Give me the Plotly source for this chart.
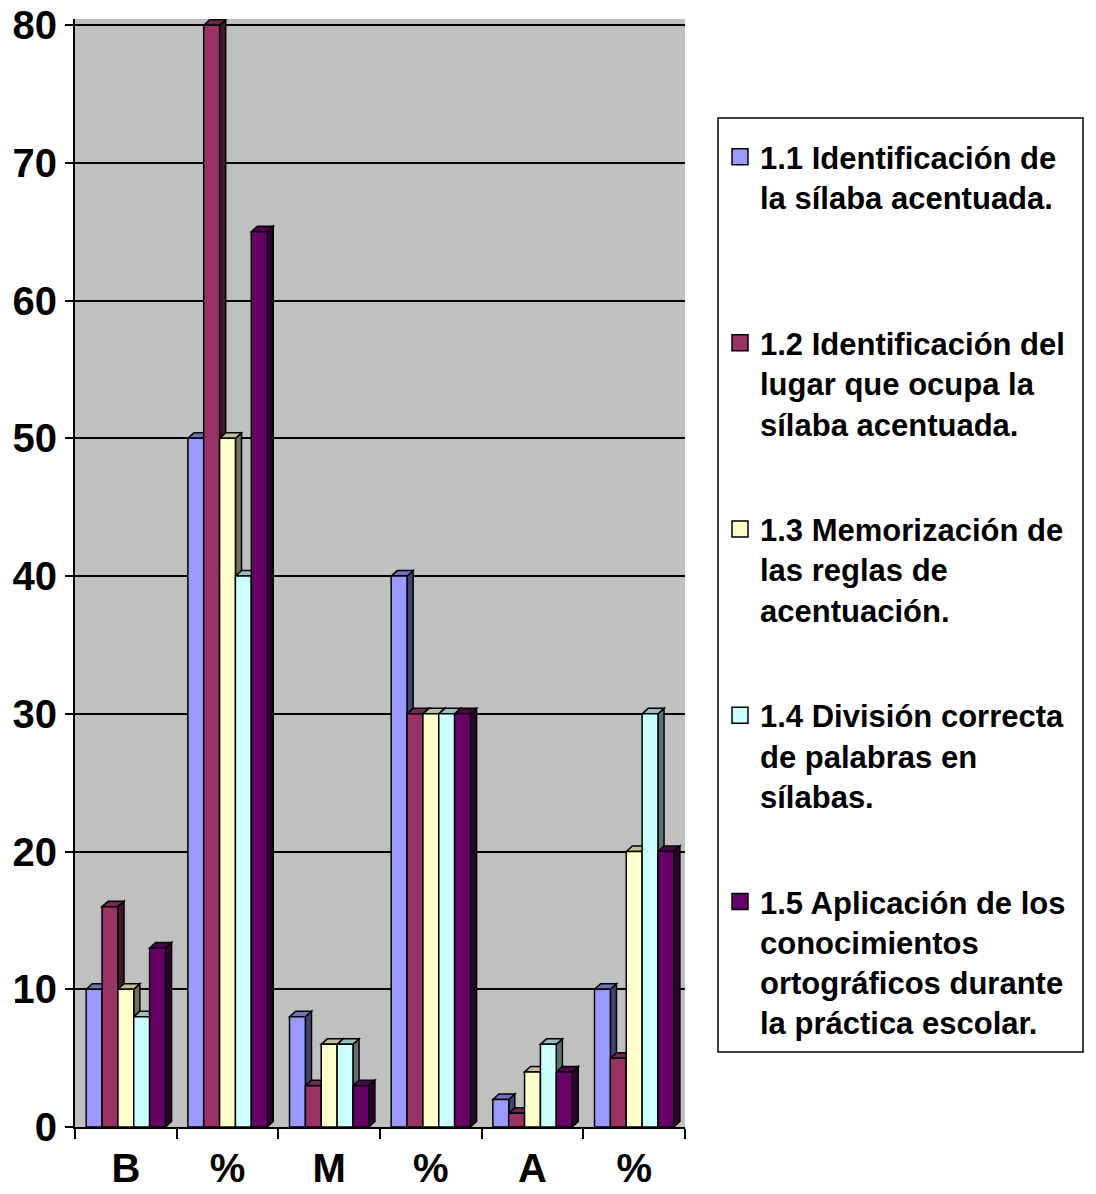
import plotly.graph_objects as go

categories = ["B", "%", "M", "%", "A", "%"]
series_names = [
    "1.1 Identificación de<br>la sílaba acentuada.",
    "1.2 Identificación del<br>lugar que ocupa la<br>sílaba acentuada.",
    "1.3 Memorización de<br>las reglas de<br>acentuación.",
    "1.4 División correcta<br>de palabras en<br>sílabas.",
    "1.5 Aplicación de los<br>conocimientos<br>ortográficos durante<br>la práctica escolar.",
]
s11 = [10, 50, 8, 40, 2, 10]
s12 = [16, 80, 3, 30, 1, 5]
s13 = [10, 50, 6, 30, 4, 20]
s14 = [8, 40, 6, 30, 6, 30]
s15 = [13, 65, 3, 30, 4, 20]
series_values = [s11, s12, s13, s14, s15]
y_ticks = [0, 10, 20, 30, 40, 50, 60, 70, 80]

colors = ["#9999FF", "#993366", "#FFFFCC", "#CCFFFF", "#660066"]

W, H = 1096, 1194
ML, MR, MT, MB = 75, 411, 19, 67
PW, PH = W - ML - MR, H - MT - MB
Y_TOP = 80.45

FONT = "Liberation Sans, Arial, sans-serif"
BAR_W = 0.156
GROUP_OFF = -0.39
DX = 0.06   # depth in x (data units)
DY = 0.40   # depth in y (data units)


def shade(hexc, f):
    h = hexc.lstrip("#")
    r, g, b = (int(h[i:i + 2], 16) for i in (0, 2, 4))
    return "#%02x%02x%02x" % (int(r * f), int(g * f), int(b * f))


def padlines(label, n=4):
    k = label.count("<br>") + 1
    return label + "<br>&nbsp;" * (n - k)


x_pos = list(range(len(categories)))
fig = go.Figure()
shapes = []
for i, (name, vals, col) in enumerate(zip(series_names, series_values, colors)):
    off = GROUP_OFF + i * BAR_W
    fig.add_trace(go.Bar(
        x=x_pos, y=vals, name=name, width=BAR_W, offset=off,
        marker=dict(color=col, line=dict(color="black", width=1.5)),
        legendgroup="g%d" % i, showlegend=False,
    ))
    # legend proxy with a larger square swatch
    fig.add_trace(go.Scatter(
        x=[None], y=[None], mode="markers", name=padlines(name),
        marker=dict(symbol="square", size=16, color=col,
                    line=dict(color="black", width=1.5)),
        legendgroup="g%d" % i, showlegend=True, hoverinfo="skip",
    ))
    for xc, v in zip(x_pos, vals):
        left = xc + off
        right = left + BAR_W
        # side face
        shapes.append(dict(
            type="path", xref="x", yref="y", layer="between",
            path=f"M{right},0 L{right + DX},{DY} L{right + DX},{v + DY} L{right},{v} Z",
            fillcolor=shade(col, 0.45), line=dict(color="black", width=1.5)))
        # top face
        shapes.append(dict(
            type="path", xref="x", yref="y", layer="between",
            path=f"M{left},{v} L{left + DX},{v + DY} L{right + DX},{v + DY} L{right},{v} Z",
            fillcolor=shade(col, 0.75), line=dict(color="black", width=1.5)))


def pxx(px):
    return (px - ML) / PW


def pxy(py):
    return (H - MB - py) / PH


# legend frame
shapes.append(dict(type="rect", xref="paper", yref="paper",
                   x0=pxx(718), x1=pxx(1083), y0=pxy(1052), y1=pxy(118),
                   fillcolor="white", line=dict(color="black", width=1.5), layer="below"))

fig.update_layout(
    width=W, height=H,
    margin=dict(l=ML, r=MR, t=MT, b=MB, pad=0, autoexpand=False),
    paper_bgcolor="white", plot_bgcolor="#C0C0C0",
    barmode="group",
    shapes=shapes,
    showlegend=True,
    legend=dict(
        x=pxx(720), y=pxy(130), xanchor="left", yanchor="top",
        font=dict(family=FONT, size=31, color="black", weight="bold"),
        bgcolor="rgba(0,0,0,0)", borderwidth=0,
        traceorder="grouped", tracegroupgap=22, valign="top",
    ),
    font=dict(family=FONT, color="black"),
)

fig.update_xaxes(
    range=[-0.5, len(categories) - 0.5], automargin=False,
    tickmode="array", tickvals=x_pos, ticktext=categories, ticks="",
    ticklabelstandoff=5,
    tickfont=dict(family=FONT, size=40, color="black", weight="bold"),
    showline=True, linecolor="black", linewidth=2,
    showgrid=False, zeroline=False,
    minor=dict(tickmode="linear", tick0=-0.5, dtick=1, ticks="outside",
               ticklen=10, tickwidth=2, tickcolor="black", showgrid=False),
)
fig.update_yaxes(
    range=[0, Y_TOP], automargin=False, tickmode="array", tickvals=y_ticks,
    tickfont=dict(family=FONT, size=40, color="black", weight="bold"),
    ticks="outside", ticklen=8, tickwidth=2, tickcolor="black",
    showline=True, linecolor="black", linewidth=2,
    showgrid=True, gridcolor="black", gridwidth=2, zeroline=False,
)

fig.write_html("out.html", config={"displayModeBar": False},
               post_script="document.body.style.margin='0';")
